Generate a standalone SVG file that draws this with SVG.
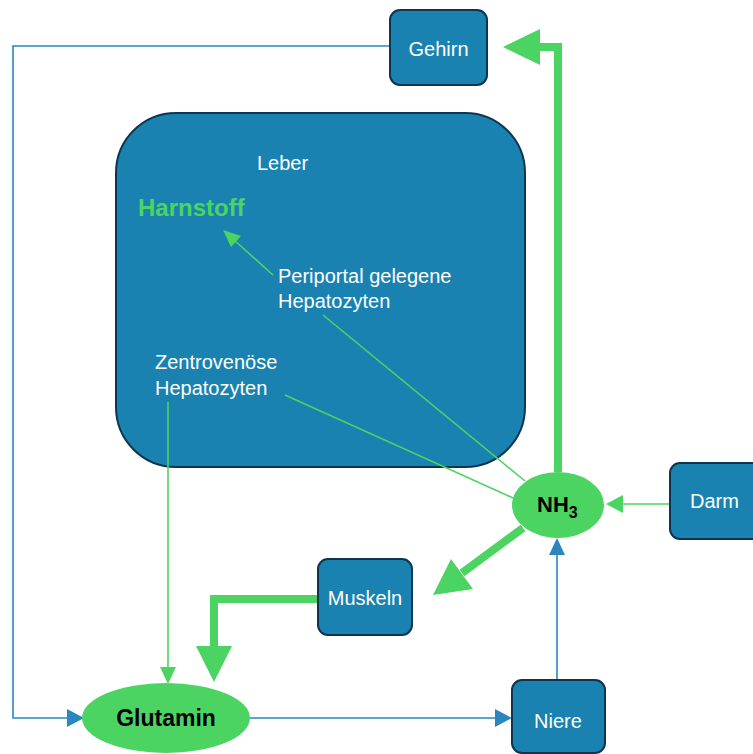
<svg xmlns="http://www.w3.org/2000/svg" width="753" height="754" viewBox="0 0 753 754">
<defs>
<style>
.box{fill:#1a82b0;stroke:#0d3550;stroke-width:2}
.lbl{font-family:"Liberation Sans",Arial,sans-serif;font-size:20px;fill:#ffffff}
.bold{font-family:"Liberation Sans",Arial,sans-serif;font-weight:bold;fill:#000000}
.thin{fill:none;stroke:#4cd463;stroke-width:1.6}
.thick{fill:none;stroke:#4cd463;stroke-width:8}
.blue{fill:none;stroke:#2a86bd;stroke-width:1.6}
.gh{fill:#4cd463}
.bh{fill:#2a86bd}
</style>
</defs>
<rect width="753" height="754" fill="#ffffff"/>
<g id="leber">
<rect class="box" x="116" y="113" width="409" height="354" rx="60" ry="60"/>
<text class="lbl" x="257" y="170">Leber</text>
<text x="138" y="216" font-family="Liberation Sans,Arial,sans-serif" font-weight="bold" font-size="24" fill="#4cd463">Harnstoff</text>
<text class="lbl" x="278" y="283">Periportal gelegene</text>
<text class="lbl" x="278" y="308">Hepatozyten</text>
<text class="lbl" x="155" y="369">Zentrovenöse</text>
<text class="lbl" x="155" y="395">Hepatozyten</text>
</g>
<g id="connectors">
<path class="blue" d="M390 46 H13 V718 H68"/>
<polygon class="bh" points="84,718 67,709 67,727"/>
<path class="blue" d="M250 718 H496"/>
<polygon class="bh" points="512,718 495,709 495,727"/>
<path class="blue" d="M557 680 V554"/>
<polygon class="bh" points="557,538 549,555 565,555"/>
<path class="thick" d="M558 472 V47 H538"/>
<polygon class="gh" points="503,47 540,29 540,65"/>
<path class="thick" d="M523 528 L462 573"/>
<polygon class="gh" points="433,595 451,559 473,589"/>
<path class="thick" d="M318 599 H214 V648"/>
<polygon class="gh" points="214,682 196,646 232,646"/>
<path class="thin" d="M670 504 H622"/>
<polygon class="gh" points="606,504 623,495 623,513"/>
<path class="thin" d="M168 402 V668"/>
<polygon class="gh" points="168,684 160,667 176,667"/>
<path class="thin" d="M525 481 L323 315"/>
<path class="thin" d="M513 498 L285 395"/>
<path class="thin" d="M273 275 L234 240"/>
<polygon class="gh" points="223,230 241,236 231,247"/>
</g>
<g id="gehirn">
<rect class="box" x="390" y="10" width="97" height="75" rx="10"/>
<text class="lbl" x="438.5" y="56" text-anchor="middle">Gehirn</text>
</g>
<g id="nh3">
<ellipse cx="558" cy="505" rx="46" ry="33" fill="#4cd463"/>
<text class="bold" x="537" y="512" font-size="22">NH<tspan font-size="16" dy="6">3</tspan></text>
</g>
<g id="darm">
<rect class="box" x="670" y="463" width="95" height="76" rx="10"/>
<text class="lbl" x="690" y="508">Darm</text>
</g>
<g id="muskeln">
<rect class="box" x="318" y="559" width="94" height="76" rx="10"/>
<text class="lbl" x="365" y="605" text-anchor="middle">Muskeln</text>
</g>
<g id="glutamin">
<ellipse cx="166" cy="718" rx="84" ry="35" fill="#4cd463"/>
<text class="bold" x="166" y="726" font-size="23" text-anchor="middle">Glutamin</text>
</g>
<g id="niere">
<rect class="box" x="512" y="680" width="93" height="73" rx="10"/>
<text class="lbl" x="558" y="728" text-anchor="middle">Niere</text>
</g>
</svg>
